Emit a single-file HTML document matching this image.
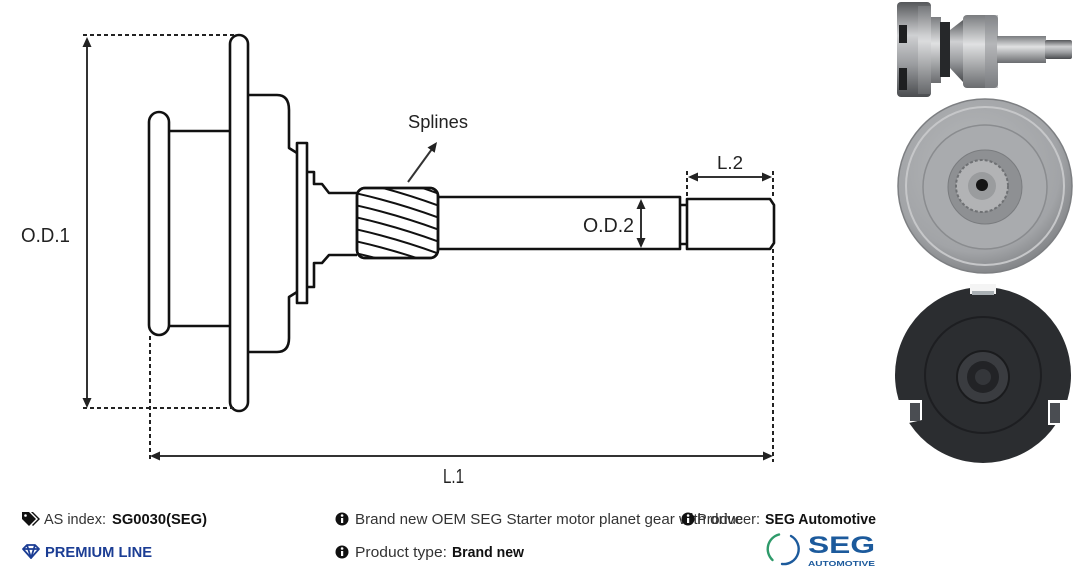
<!DOCTYPE html>
<html>
<head>
<meta charset="utf-8">
<style>
  html,body{margin:0;padding:0;background:#fff;}
  body{width:1080px;height:569px;overflow:hidden;}
  svg{display:block;}
  .dim{font-family:"Liberation Sans",sans-serif;fill:#222;}
  .txt{font-family:"Liberation Sans",sans-serif;font-size:15px;fill:#333;}
  .b{font-weight:bold;fill:#111;}
</style>
</head>
<body>
<svg width="1080" height="569" viewBox="0 0 1080 569" xmlns="http://www.w3.org/2000/svg">
  <defs>
    <clipPath id="spl"><rect x="357" y="188" width="81" height="70" rx="8"/></clipPath>
    <linearGradient id="gv" x1="0" y1="0" x2="0" y2="1">
      <stop offset="0" stop-color="#55575a"/>
      <stop offset="0.35" stop-color="#cfd0d2"/>
      <stop offset="0.65" stop-color="#9c9ea1"/>
      <stop offset="1" stop-color="#4a4c4f"/>
    </linearGradient>
    <linearGradient id="gv2" x1="0" y1="0" x2="0" y2="1">
      <stop offset="0" stop-color="#7a7c7f"/>
      <stop offset="0.4" stop-color="#e0e1e2"/>
      <stop offset="1" stop-color="#6a6c6f"/>
    </linearGradient>
    <radialGradient id="gr" cx="0.45" cy="0.4" r="0.6">
      <stop offset="0" stop-color="#b8babc"/>
      <stop offset="0.8" stop-color="#a2a4a7"/>
      <stop offset="1" stop-color="#85878a"/>
    </radialGradient>
  </defs>

  <!-- ===== Technical drawing ===== -->
  <g fill="none" stroke="#111" stroke-width="2.6" stroke-linejoin="round">
    <!-- small left disc -->
    <rect x="149" y="112" width="20" height="223" rx="10" fill="#fff"/>
    <!-- connecting lines -->
    <line x1="169" y1="131" x2="230" y2="131"/>
    <line x1="169" y1="326" x2="230" y2="326"/>
    <!-- big disc -->
    <rect x="230" y="35" width="18" height="376" rx="9" fill="#fff"/>
    <!-- hub -->
    <path d="M248 95 H277 Q289 95 289 110 V148 L297 153"/>
    <path d="M297 292 L289 297 V338 Q289 352 277 352 H248"/>
    <!-- plate -->
    <rect x="297" y="143" width="10" height="160" fill="#fff"/>
    <!-- steps -->
    <path d="M307 172 H314 V184 H322 L329 193 H357"/>
    <path d="M357 255 H329 L322 263 H314 V287 H307"/>
    <!-- shaft -->
    <path d="M438 197 H680 V249 H438"/>
    <path d="M680 205 H687 M680 244 H687"/>
    <path d="M687 199 H770 L774 205 V243 L770 249 H687 Z"/>
    <!-- spline block -->
    <rect x="357" y="188" width="81" height="70" rx="8" fill="#fff"/>
  </g>
  <g clip-path="url(#spl)" fill="none" stroke="#111" stroke-width="2">
    <path d="M350 156 Q397 166 445 184"/>
    <path d="M350 168 Q397 178 445 196"/>
    <path d="M350 180 Q397 190 445 208"/>
    <path d="M350 192 Q397 202 445 220"/>
    <path d="M350 204 Q397 214 445 232"/>
    <path d="M350 216 Q397 226 445 244"/>
    <path d="M350 228 Q397 238 445 256"/>
    <path d="M350 240 Q397 250 445 268"/>
    <path d="M350 252 Q397 262 445 280"/>
  </g>
  <rect x="357" y="188" width="81" height="70" rx="8" fill="none" stroke="#111" stroke-width="2.6"/>

  <!-- dashed extension lines -->
  <g stroke="#222" stroke-width="2" stroke-dasharray="4 3" fill="none">
    <line x1="83" y1="35" x2="236" y2="35"/>
    <line x1="83" y1="408" x2="236" y2="408"/>
    <line x1="150" y1="336" x2="150" y2="462"/>
    <line x1="687" y1="171" x2="687" y2="198"/>
    <line x1="773" y1="171" x2="773" y2="199"/>
    <line x1="773" y1="249" x2="773" y2="462"/>
  </g>

  <!-- dimension arrows -->
  <g stroke="#333" stroke-width="2">
    <line x1="87" y1="45" x2="87" y2="400"/>
    <line x1="158" y1="456" x2="765" y2="456"/>
    <line x1="696" y1="177" x2="764" y2="177"/>
    <line x1="641" y1="207" x2="641" y2="240"/>
    <line x1="408" y1="182" x2="432" y2="149"/>
  </g>
  <g fill="#222">
    <polygon points="87,37 82.5,47 91.5,47"/>
    <polygon points="87,408 82.5,398 91.5,398"/>
    <polygon points="150,456 160,451.5 160,460.5"/>
    <polygon points="773,456 763,451.5 763,460.5"/>
    <polygon points="688,177 698,172.5 698,181.5"/>
    <polygon points="772,177 762,172.5 762,181.5"/>
    <polygon points="641,199 636.5,209 645.5,209"/>
    <polygon points="641,248 636.5,238 645.5,238"/>
    <polygon points="437,142 434.7,152.7 427.5,147.5"/>
  </g>

  <!-- dimension labels -->
  <text class="dim" x="21" y="242" font-size="20" textLength="49" lengthAdjust="spacingAndGlyphs">O.D.1</text>
  <text class="dim" x="583" y="232" font-size="20" textLength="51" lengthAdjust="spacingAndGlyphs">O.D.2</text>
  <text class="dim" x="717" y="169" font-size="18" textLength="26" lengthAdjust="spacingAndGlyphs">L.2</text>
  <text class="dim" x="443" y="483" font-size="20" textLength="21" lengthAdjust="spacingAndGlyphs">L.1</text>
  <text class="dim" x="408" y="128" font-size="18" textLength="60" lengthAdjust="spacingAndGlyphs">Splines</text>

  <!-- ===== Photos ===== -->
  <!-- top: side view -->
  <g>
    <rect x="897" y="2" width="34" height="95" rx="4" fill="url(#gv)"/>
    <rect x="899" y="25" width="8" height="18" fill="#1e1f21"/>
    <rect x="899" y="68" width="8" height="22" fill="#1e1f21"/>
    <rect x="918" y="6" width="13" height="88" fill="url(#gv2)" opacity="0.8"/>
    <rect x="931" y="17" width="10" height="66" fill="url(#gv2)"/>
    <rect x="940" y="22" width="10" height="55" fill="#26282a"/>
    <polygon points="950,30 963,20 963,82 950,68" fill="url(#gv)"/>
    <rect x="963" y="15" width="35" height="73" rx="4" fill="url(#gv2)"/>
    <rect x="985" y="15" width="13" height="73" fill="#8a8c8f" opacity="0.5"/>
    <rect x="997" y="36" width="49" height="27" fill="url(#gv2)"/>
    <rect x="1045" y="40" width="27" height="19" rx="2" fill="url(#gv)"/>
  </g>
  <!-- middle: front view (metal) -->
  <g>
    <circle cx="985" cy="186" r="87" fill="url(#gr)" stroke="#7d7f82" stroke-width="1.5"/>
    <circle cx="985" cy="186" r="79" fill="none" stroke="#c6c7c9" stroke-width="2"/>
    <circle cx="985" cy="187" r="62" fill="#a9abae" stroke="#8a8c8f" stroke-width="1.5"/>
    <circle cx="985" cy="187" r="37" fill="#8e9093" stroke="#7a7c7f" stroke-width="1"/>
    <circle cx="982" cy="186" r="26" fill="#b2b3b5" stroke="#6f7174" stroke-width="2" stroke-dasharray="3 2"/>
    <circle cx="982" cy="186" r="14" fill="#9a9c9e"/>
    <circle cx="982" cy="185" r="6" fill="#151515"/>
  </g>
  <!-- bottom: back view (dark) -->
  <g>
    <circle cx="983" cy="375" r="88" fill="#2b2d30"/>
    <circle cx="983" cy="375" r="58" fill="none" stroke="#1d1e21" stroke-width="2"/>
    <circle cx="983" cy="377" r="26" fill="#3a3c40" stroke="#1a1b1d" stroke-width="2"/>
    <circle cx="983" cy="377" r="16" fill="#222326"/>
    <circle cx="983" cy="377" r="8" fill="#34363a"/>
    <rect x="970" y="284" width="26" height="10" fill="#f4f4f4"/>
    <rect x="972" y="291" width="22" height="4" fill="#aab0b4"/>
    <polygon points="895,400 922,400 922,420 900,425 893,410" fill="#fff"/>
    <rect x="910" y="403" width="10" height="18" fill="#4a4d52"/>
    <polygon points="1048,400 1074,400 1072,412 1066,425 1048,425" fill="#fff"/>
    <rect x="1050" y="403" width="10" height="20" fill="#4a4d52"/>
  </g>

  <!-- ===== Bottom info ===== -->
  <!-- tag icon -->
  <g fill="#111">
    <path d="M22 512 H29 L36 519 L29 526 L22 519 Z"/>
    <path d="M31 512 H33 L40 519 L33 526 L32 525 L38 519 Z"/>
    <circle cx="25.5" cy="515.5" r="1.3" fill="#fff"/>
  </g>
  <text class="txt" x="44" y="524" textLength="62" lengthAdjust="spacingAndGlyphs">AS index:</text>
  <text class="txt b" x="112" y="524" textLength="95" lengthAdjust="spacingAndGlyphs">SG0030(SEG)</text>

  <!-- diamond icon -->
  <g fill="none" stroke="#1b3d94" stroke-width="1.8" stroke-linejoin="round">
    <path d="M23 549 L27 545 H35 L39 549 L31 558 Z"/>
    <path d="M23 549 H39 M27 545 L31 558 L35 545"/>
  </g>
  <text x="45" y="557" font-family="Liberation Sans, sans-serif" font-size="15" font-weight="bold" fill="#1b3d94" textLength="107" lengthAdjust="spacingAndGlyphs">PREMIUM LINE</text>

  <!-- info icons -->
  <g>
    <circle cx="342" cy="519" r="6.5" fill="#111"/>
    <rect x="341" y="518" width="2.2" height="5" fill="#fff"/><circle cx="342.1" cy="515.5" r="1.3" fill="#fff"/>
    <circle cx="342" cy="552" r="6.5" fill="#111"/>
    <rect x="341" y="551" width="2.2" height="5" fill="#fff"/><circle cx="342.1" cy="548.5" r="1.3" fill="#fff"/>
  </g>
  <text class="txt" x="355" y="524" textLength="388" lengthAdjust="spacingAndGlyphs">Brand new OEM SEG Starter motor planet gear with drive</text>
  <text class="txt" x="355" y="557" textLength="92" lengthAdjust="spacingAndGlyphs">Product type:</text>
  <text class="txt b" x="452" y="557" textLength="72" lengthAdjust="spacingAndGlyphs">Brand new</text>

  <g>
    <circle cx="688" cy="519" r="6.5" fill="#111"/>
    <rect x="687" y="518" width="2.2" height="5" fill="#fff"/><circle cx="688.1" cy="515.5" r="1.3" fill="#fff"/>
  </g>
  <text class="txt" x="697" y="524" textLength="63" lengthAdjust="spacingAndGlyphs">Producer:</text>
  <text class="txt b" x="765" y="524" textLength="111" lengthAdjust="spacingAndGlyphs">SEG Automotive</text>

  <!-- SEG logo -->
  <g fill="none" stroke-width="2.4" stroke-linecap="round">
    <path d="M779 534.5 A15 15 0 0 0 772.5 560" stroke="#2e9a6a"/>
    <path d="M791 536 A15 15 0 0 1 782 564" stroke="#1c5a9c"/>
  </g>
  <text x="808" y="553" font-family="Liberation Sans, sans-serif" font-size="24" font-weight="bold" fill="#1c5a9c" textLength="67" lengthAdjust="spacingAndGlyphs">SEG</text>
  <text x="808" y="566" font-family="Liberation Sans, sans-serif" font-size="7.5" font-weight="bold" fill="#1c5a9c" textLength="67" lengthAdjust="spacingAndGlyphs">AUTOMOTIVE</text>
</svg>
</body>
</html>
